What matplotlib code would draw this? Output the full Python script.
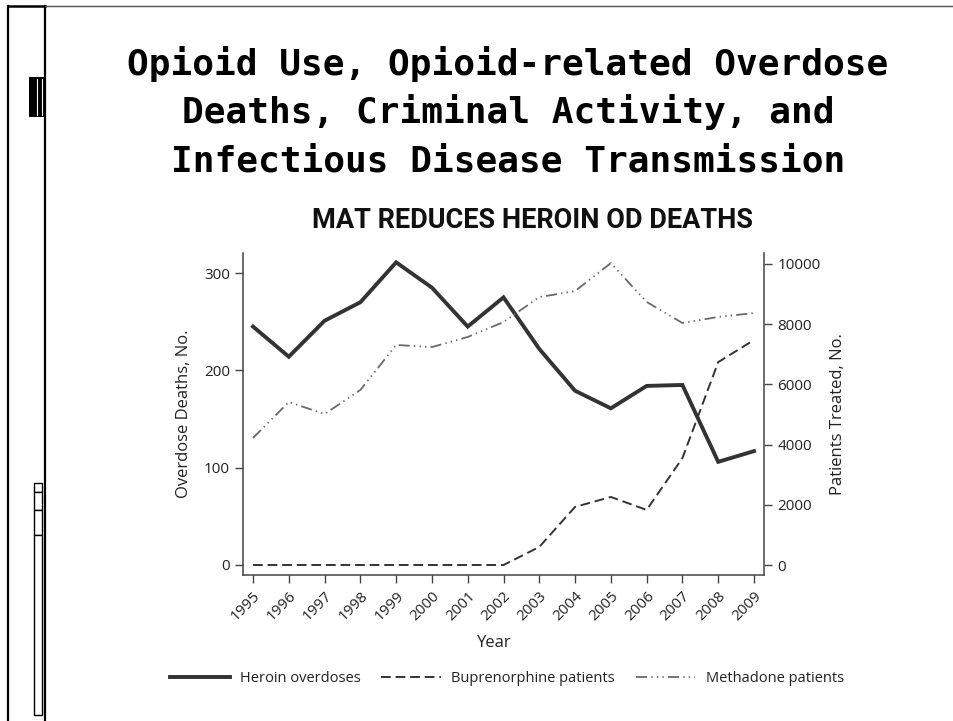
import matplotlib.pyplot as plt
from matplotlib.lines import Line2D
from matplotlib.patches import Rectangle

years = [1995, 1996, 1997, 1998, 1999, 2000, 2001, 2002,
         2003, 2004, 2005, 2006, 2007, 2008, 2009]
heroin = [245, 214, 251, 270, 311, 285, 245, 275, 222, 179, 161, 184, 185, 106, 117]
bupe = [0, 0, 0, 0, 0, 0, 0, 0, 600, 1930, 2260, 1830, 3550, 6740, 7475]
metha = [4220, 5415, 5015, 5815, 7310, 7240, 7575, 8070,
         8900, 9100, 10030, 8740, 8040, 8240, 8370]

left_ticks = [0, 100, 200, 300]
right_ticks = [0, 2000, 4000, 6000, 8000, 10000]

title_lines = ["Opioid Use, Opioid-related Overdose",
               "Deaths, Criminal Activity, and",
               "Infectious Disease Transmission"]

W, H = 954, 721
plt.rcParams['lines.scale_dashes'] = False
plt.rcParams['font.family'] = ['Open Sans', 'DejaVu Sans']

fig = plt.figure(figsize=(W / 100, H / 100), dpi=100)


def fx(px):
    return px / W


def fy(py):
    return 1 - py / H


# slide frame on the left
fig.add_artist(Line2D([fx(8), fx(8)], [fy(6), 0], color='black', lw=1.6))
fig.add_artist(Line2D([fx(45), fx(45)], [fy(6), 0], color='black', lw=1.6))
fig.add_artist(Line2D([fx(8), fx(45)], [fy(6), fy(6)], color='black', lw=1.8))
fig.add_artist(Line2D([fx(45), 1], [fy(6), fy(6)], color='#555555', lw=1.0))
fig.add_artist(Rectangle((fx(29), fy(117)), fx(44) - fx(29), (117 - 77) / H,
                         facecolor='black', edgecolor='none'))
for xl in (37, 41.5):
    fig.add_artist(Line2D([fx(xl), fx(xl)], [fy(79), fy(115)], color='white', lw=0.8))
for y0, y1 in [(483, 492), (492, 510), (510, 535), (535, 715)]:
    fig.add_artist(Rectangle((fx(33.5), fy(y1)), fx(41.5) - fx(33.5), (y1 - y0) / H,
                             facecolor='white', edgecolor='black', lw=1.0))

# titles
for i, line in enumerate(title_lines):
    fig.text(fx(508), fy(75 + i * 48.5), line, ha='center', va='baseline',
             family='DejaVu Sans Mono', weight='bold', fontsize=26, color='black')
fig.text(fx(533), fy(228), "MAT REDUCES HEROIN OD DEATHS", ha='center', va='baseline',
         family=['Roboto', 'DejaVu Sans'], weight='bold',
         fontsize=19.5, color='#111111')

ax = fig.add_axes([fx(243), fy(575), fx(764) - fx(243), (575 - 253) / H])
ax2 = ax.twinx()

h1, = ax.plot(years, heroin, color='#333333', lw=2.8, solid_joinstyle='miter',
              label='Heroin overdoses')
h2, = ax2.plot(years, bupe, color='#333333', lw=1.4, dashes=(7, 3.5),
               label='Buprenorphine patients')
h3, = ax2.plot(years, metha, color='#6a6a6a', lw=1.3, dashes=(8, 3, 1, 3, 1, 3, 1, 3),
               label='Methadone patients')

ax.set_xlim(1994.72, 2009.28)
ax.set_ylim(-10.3, 320.6)
ax2.set_ylim(-332, 10365)
ax.set_xticks(years)
ax.set_xticklabels([str(y) for y in years], rotation=45, ha='right',
                   rotation_mode='anchor')
ax.set_yticks(left_ticks)
ax2.set_yticks(right_ticks)

for a in (ax, ax2):
    a.spines['top'].set_visible(False)
    for s in a.spines.values():
        s.set_color('#444444')
        s.set_linewidth(1.1)
    a.tick_params(direction='out', length=6, width=1, color='#444444',
                  labelsize=11, labelcolor='#222222')
ax.spines['right'].set_visible(False)
ax2.spines['left'].set_visible(False)
ax2.spines['bottom'].set_visible(False)
ax.tick_params(axis='x', pad=4)

ax.set_ylabel('Overdose Deaths, No.', fontsize=12, color='#222222')
ax.yaxis.set_label_coords(-0.098, 0.5)
ax2.set_ylabel('Patients Treated, No.', fontsize=12, color='#222222')
ax2.yaxis.set_label_coords(1.127, 0.5)
fig.text(fx(494), fy(643), 'Year', ha='center', va='center', fontsize=12, color='#222222')

fig.legend([h1, h2, h3], [h.get_label() for h in (h1, h2, h3)], loc='center',
           bbox_to_anchor=(fx(507), fy(679)), ncol=3, frameon=False, fontsize=10.5,
           handlelength=4.1, handletextpad=0.7, columnspacing=1.4,
           labelcolor='#222222')

fig.savefig('out.png', dpi=100)
